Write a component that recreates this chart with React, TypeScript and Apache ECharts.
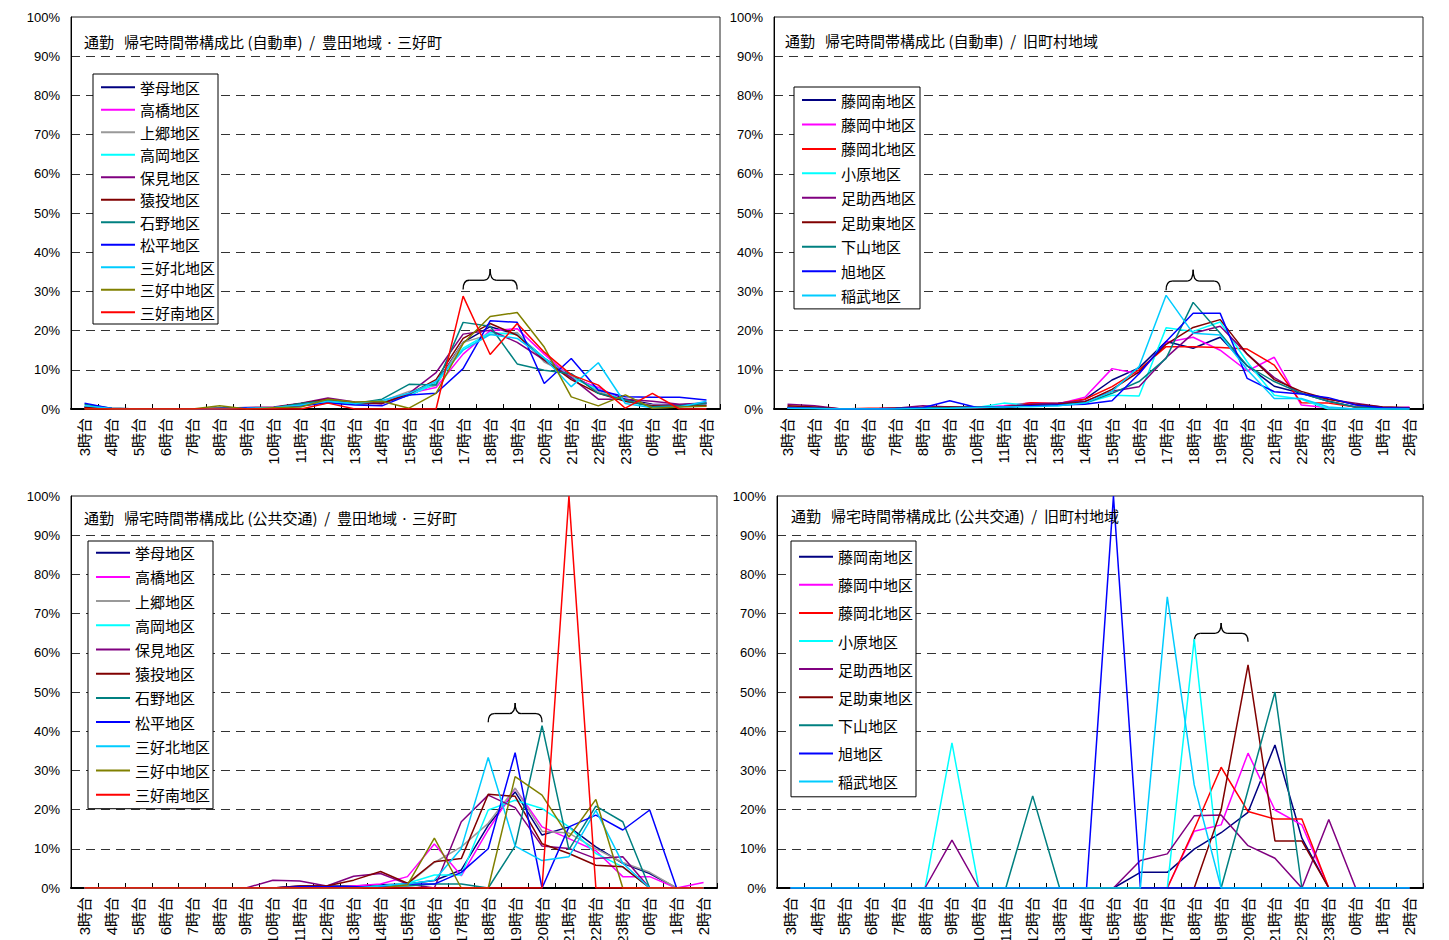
import React, { useEffect, useRef } from "react";
import * as echarts from "echarts";

// Time-of-day categories (return-home hour bands)
const hours = [
  "3時台", "4時台", "5時台", "6時台", "7時台", "8時台", "9時台", "10時台",
  "11時台", "12時台", "13時台", "14時台", "15時台", "16時台", "17時台", "18時台",
  "19時台", "20時台", "21時台", "22時台", "23時台", "0時台", "1時台", "2時台",
];

const yTicks = [0, 10, 20, 30, 40, 50, 60, 70, 80, 90, 100];

// Toyota area + Miyoshi town districts
const toyotaDistricts = [
  "挙母地区", "高橋地区", "上郷地区", "高岡地区", "保見地区", "猿投地区",
  "石野地区", "松平地区", "三好北地区", "三好中地区", "三好南地区",
];
const toyotaColors = [
  "#000080", "#FF00FF", "#999999", "#00FFFF", "#800080", "#800000",
  "#008080", "#0000FF", "#00CCFF", "#808000", "#FF0000",
];

// Former town/village districts
const villageDistricts = [
  "藤岡南地区", "藤岡中地区", "藤岡北地区", "小原地区", "足助西地区",
  "足助東地区", "下山地区", "旭地区", "稲武地区",
];
const villageColors = [
  "#000080", "#FF00FF", "#FF0000", "#00FFFF", "#800080",
  "#800000", "#008080", "#0000FF", "#00CCFF",
];

// Share (%) by hour, car commuters, Toyota/Miyoshi
const carToyota = [
  [0.5, 0.2, 0, 0, 0, 0.1, 0.2, 0.3, 0.8, 1.8, 1.2, 1.5, 3.5, 6.5, 17, 21, 19, 13, 8.5, 5, 2.5, 1.2, 1, 1.5],
  [0.3, 0.1, 0, 0, 0, 0.1, 0.2, 0.4, 1, 2, 1.5, 2, 4, 5.5, 14, 20, 20.5, 14, 8, 5.5, 2, 1, 0.8, 1.2],
  [0.4, 0.1, 0, 0, 0, 0.1, 0.2, 0.4, 1, 2.2, 1.5, 2, 4.5, 6, 17, 19, 19.5, 12, 8.5, 4.5, 2, 1, 0.8, 1],
  [0.6, 0.1, 0, 0, 0, 0.1, 0.2, 0.3, 0.9, 2, 1.3, 1.8, 3.5, 6.5, 15.5, 19.5, 19, 13, 8, 5, 2, 0.6, 0.5, 1.5],
  [0.5, 0.1, 0, 0, 0, 0.2, 0.4, 0.5, 1.5, 2.8, 1.8, 1.3, 4, 9.3, 19.1, 20.1, 17, 12.5, 8, 2.5, 2.5, 2, 1.2, 1.5],
  [0.4, 0.1, 0, 0, 0, 0.2, 0.3, 0.4, 1.4, 2.5, 1.6, 1.5, 3.8, 7.5, 18, 21.8, 18.8, 12.5, 7.5, 4, 2, 0.8, 0.7, 0.8],
  [1.2, 0.2, 0, 0, 0, 0.1, 0.2, 0.3, 1.4, 2.2, 1.4, 2.5, 6.3, 6.1, 22.1, 21.1, 11.5, 9.9, 9, 4, 2.3, 0.6, 0.8, 1.4],
  [1.5, 0.1, 0, 0, 0, 0.1, 0.3, 0.3, 0.8, 1.5, 1, 0.8, 3.6, 4, 10.3, 22.5, 22.1, 6.5, 12.9, 4.8, 3.1, 3, 3, 2.3],
  [0.8, 0.1, 0, 0, 0, 0.1, 0.2, 0.4, 1, 2, 1.4, 2.2, 4, 7, 15, 19, 18, 13, 5.7, 11.8, 1.4, 0.3, 0.5, 2],
  [0, 0, 0, 0, 0, 0.8, 0, 0.3, 0.5, 2.5, 1.8, 2, 0.2, 4, 16.7, 23.6, 24.6, 15.8, 3.1, 0.8, 3.6, 0.2, 0.5, 0.7],
  [0, 0, 0, 0, 0, 0, 0, 0, 0, 1.5, 0, 0, 0, 0, 28.8, 13.9, 21.8, 14.5, 8.7, 6.1, 0.2, 4, 0, 0],
];

// Share (%) by hour, car commuters, former towns/villages
const carVillage = [
  [0.5, 0.3, 0, 0, 0.2, 0.3, 0.5, 0.5, 0.6, 1, 1.2, 2.5, 7.4, 10.5, 17.2, 15.5, 18.3, 11, 5.8, 4, 2, 0.5, 0.3, 0.2],
  [0.3, 0.2, 0, 0, 0.2, 0.2, 0.3, 0.4, 0.8, 1.6, 1.3, 3, 10.3, 9, 17, 18.3, 15, 9.7, 13.2, 1, 0.3, 0, 0, 0.5],
  [0.4, 0.3, 0, 0.2, 0.2, 0.2, 0.4, 0.3, 0.6, 1.6, 1.4, 2.5, 5.7, 10, 15.9, 15.9, 15.7, 15.3, 11.2, 1.6, 1.5, 0.5, 0.2, 0.2],
  [0.2, 0.1, 0, 0, 0.1, 0.2, 0.4, 0.4, 1.5, 1, 0.8, 1.5, 3.5, 3.3, 20.7, 19.8, 22.2, 12, 3.5, 2.5, 0, 0, 0, 0],
  [1.2, 0.8, 0, 0, 0.2, 0.8, 0.5, 0.5, 0.6, 1.2, 1.5, 2, 4.5, 5.7, 13.1, 19.3, 21.1, 14, 8, 4, 2.5, 1.5, 0.5, 0.3],
  [0.8, 0.5, 0, 0, 0.2, 0.4, 0.5, 0.3, 0.5, 1, 1.2, 1.8, 5, 9.5, 16.5, 20.8, 22.8, 14, 7.5, 4.5, 2.5, 1.2, 0.5, 0.3],
  [0.3, 0.2, 0, 0, 0.1, 0.3, 0.3, 0.5, 0.4, 0.8, 1, 1.5, 4, 7, 12.9, 27.2, 19.3, 11, 7, 4, 2, 0.5, 0.2, 0.1],
  [0.3, 0.2, 0, 0, 0.1, 0.3, 2.1, 0.4, 0.5, 0.8, 1, 1.2, 2.1, 9, 17.2, 24.4, 24.4, 7.8, 4.4, 3.8, 2.9, 1, 0.3, 0.2],
  [0.2, 0.1, 0, 0, 0, 0.1, 0.2, 0.4, 0.5, 0.6, 0.8, 1.5, 4.5, 10.8, 29, 19.3, 18.9, 10, 2.7, 2.7, 0.5, 0, 0, 0],
];

// Share (%) by hour, public transport commuters, Toyota/Miyoshi
const transitToyota = [
  [0, 0, 0, 0, 0, 0, 0, 0, 0.5, 0.5, 0.5, 0.8, 1, 1.9, 4.6, 16, 24.5, 13.5, 15.6, 10.5, 6.3, 3.7, 0, 0],
  [0, 0, 0, 0, 0, 0, 0, 0, 0, 0, 0.5, 1, 2.9, 11.2, 3.1, 14.8, 25.4, 15.6, 12.6, 9.5, 2.9, 2.9, 0, 1.4],
  [0, 0, 0, 0, 0, 0, 0, 0, 0, 0, 0, 0.5, 1, 6.5, 10.5, 16.5, 25.5, 14.5, 14, 10, 6.5, 4, 0, 0],
  [0, 0, 0, 0, 0, 0, 0, 0, 0, 0, 0, 0.5, 1.2, 3.3, 3.3, 19.9, 22.4, 20.3, 15.6, 8.8, 5.4, 0, 0, 0],
  [0, 0, 0, 0, 0, 0, 0, 2, 1.8, 0.5, 3, 3.7, 1, 0, 16.9, 23.7, 20.5, 10.7, 10.1, 7.5, 8, 0, 0, 0],
  [0, 0, 0, 0, 0, 0, 0, 0, 0.5, 0.5, 2, 4.2, 1.2, 6.7, 7.5, 23.9, 23.4, 11.3, 8.8, 5.8, 5.4, 0, 0, 0],
  [0, 0, 0, 0, 0, 0, 0, 0, 0, 0, 0, 0.5, 0.5, 1, 1, 0, 10.7, 41.4, 9.8, 20.9, 16.9, 0, 0, 0],
  [0, 0, 0, 0, 0, 0, 0, 0, 0.3, 0.3, 0.3, 0.3, 1, 1, 4, 10, 34.5, 0, 15.6, 18.6, 14.8, 19.9, 0, 0],
  [0, 0, 0, 0, 0, 0, 0, 0, 0, 0, 0, 0.5, 1, 2, 10.1, 33.3, 10.7, 7, 8, 19.8, 6.3, 0, 0, 0],
  [0, 0, 0, 0, 0, 0, 0, 0, 0, 0, 0, 0, 0.8, 12.7, 0, 0, 28.4, 23.7, 13, 22.6, 0, 0, 0, 0],
  [0, 0, 0, 0, 0, 0, 0, 0, 0, 0, 0, 0, 0, 0, 0, 0, 0, 0, 100, 0, 0, 0, 0, 0],
];

// Share (%) by hour, public transport commuters, former towns/villages
const transitVillage = [
  [0, 0, 0, 0, 0, 0, 0, 0, 0, 0, 0, 0, 0, 4, 4, 9.9, 14.1, 19.3, 36.5, 12.7, 0, 0, 0, 0],
  [0, 0, 0, 0, 0, 0, 0, 0, 0, 0, 0, 0, 0, 0, 0, 14.5, 16.1, 34.4, 19.9, 16.1, 0, 0, 0, 0],
  [0, 0, 0, 0, 0, 0, 0, 0, 0, 0, 0, 0, 0, 0, 0, 15, 30.8, 19.5, 17.6, 17.6, 0, 0, 0, 0],
  [0, 0, 0, 0, 0, 0, 37, 0, 0, 0, 0, 0, 0, 0, 0, 63.5, 0, 0, 0, 0, 0, 0, 0, 0],
  [0, 0, 0, 0, 0, 0, 12.2, 0, 0, 0, 0, 0, 0, 7, 8.7, 18.4, 18.6, 10.8, 7.6, 0, 17.5, 0, 0, 0],
  [0, 0, 0, 0, 0, 0, 0, 0, 0, 0, 0, 0, 0, 0, 0, 0, 19.9, 56.9, 12, 12, 0, 0, 0, 0],
  [0, 0, 0, 0, 0, 0, 0, 0, 0, 23.5, 0, 0, 0, 0, 0, 0, 0, 25, 50, 0, 0, 0, 0, 0],
  [0, 0, 0, 0, 0, 0, 0, 0, 0, 0, 0, 0, 100, 0, 0, 0, 0, 0, 0, 0, 0, 0, 0, 0],
  [0, 0, 0, 0, 0, 0, 0, 0, 0, 0, 0, 0, 0, 0, 74.3, 26.3, 0, 0, 0, 0, 0, 0, 0, 0],
];

const S = "\u00A0";
const titles = [
  `通勤${S}${S}${S}帰宅時間帯構成比${S}(自動車)${S}${S}/${S}${S}豊田地域${S}·${S}三好町`,
  `通勤${S}${S}${S}帰宅時間帯構成比${S}(自動車)${S}${S}/${S}${S}旧町村地域`,
  `通勤${S}${S}${S}帰宅時間帯構成比${S}(公共交通)${S}${S}/${S}${S}豊田地域${S}·${S}三好町`,
  `通勤${S}${S}${S}帰宅時間帯構成比${S}(公共交通)${S}${S}/${S}${S}旧町村地域`,
];

// Brace annotations: spanned hour range and the value band it sits in
const braceFrom = ["17時台", "17時台", "18時台", "18時台"];
const braceTo = ["19時台", "19時台", "20時台", "20時台"];
const braceBase = [30.5, 30.3, 42.3, 62.8];
const braceTip = [35.7, 35.5, 47.2, 67.6];

const CJK = '"Noto Sans CJK JP", "Noto Sans", sans-serif';
const NUM = '"Liberation Sans", "Noto Sans CJK JP", sans-serif';

// Panel layout
const panels = [
  { names: toyotaDistricts, colors: toyotaColors, values: carToyota,
    grid: { left: 71, top: 17, width: 649, height: 392 },
    title: { left: 84, top: 32.5 },
    legend: { left: 93, top: 74, gap: 7.5, pad: [5.8, 3, 4.2, 8] } },
  { names: villageDistricts, colors: villageColors, values: carVillage,
    grid: { left: 774, top: 17, width: 649, height: 392 },
    title: { left: 785, top: 31 },
    legend: { left: 794, top: 87, gap: 9.45, pad: [5.5, 4, 5.8, 8] } },
  { names: toyotaDistricts, colors: toyotaColors, values: transitToyota,
    grid: { left: 71, top: 496, width: 646, height: 392 },
    title: { left: 84, top: 508 },
    legend: { left: 88, top: 541, gap: 9.2, pad: [4.2, 3, 6.5, 8] } },
  { names: villageDistricts, colors: villageColors, values: transitVillage,
    grid: { left: 777, top: 496, width: 646, height: 392 },
    title: { left: 791, top: 506 },
    legend: { left: 791, top: 541, gap: 13.1, pad: [8.2, 3, 7.8, 8] } },
];

export default function App() {
  const ref = useRef<HTMLDivElement>(null);

  useEffect(() => {
    if (!ref.current) return;
    const chart = echarts.init(ref.current, undefined, { renderer: "svg" });

    const grid = panels.map((p) => ({
      ...p.grid,
      containLabel: false,
      outerBoundsMode: "none",
      show: true,
      borderColor: "#222",
      borderWidth: 1,
      backgroundColor: "transparent",
    }));

    const xAxis = panels.map((_, k) => ({
      type: "category",
      gridIndex: k,
      data: hours,
      boundaryGap: true,
      axisLine: { show: true, lineStyle: { color: "#000", width: 2 } },
      axisTick: { show: true, inside: true, length: 5, lineStyle: { color: "#000", width: 1 } },
      axisLabel: {
        rotate: 90,
        interval: 0,
        margin: 9,
        fontSize: 15,
        color: "#000",
        fontFamily: NUM,
      },
      splitLine: { show: false },
    }));

    const yAxis = panels.map((_, k) => ({
      type: "value",
      gridIndex: k,
      min: yTicks[0],
      max: yTicks[yTicks.length - 1],
      interval: yTicks[1] - yTicks[0],
      axisLine: { show: true, lineStyle: { color: "#000", width: 1 } },
      axisTick: { show: false },
      axisLabel: {
        formatter: "{value}%",
        fontSize: 13,
        margin: 11,
        color: "#000",
        fontFamily: NUM,
      },
      splitLine: {
        show: true,
        showMinLine: false,
        showMaxLine: false,
        lineStyle: { color: "#333", width: 1, type: [9, 6] },
      },
    }));

    const series: any[] = [];
    panels.forEach((p, k) => {
      p.names.forEach((name, i) => {
        series.push({
          type: "line",
          name,
          xAxisIndex: k,
          yAxisIndex: k,
          data: p.values[i],
          symbol: "none",
          silent: true,
          color: p.colors[i],
          lineStyle: { color: p.colors[i], width: 1.5 },
          emphasis: { disabled: true },
        });
      });
    });

    const legend = panels.map((p) => ({
      orient: "vertical",
      left: p.legend.left,
      top: p.legend.top,
      data: p.names,
      icon: "rect",
      itemWidth: 34,
      itemHeight: 2,
      itemGap: p.legend.gap,
      padding: p.legend.pad,
      backgroundColor: "#fff",
      borderColor: "#000",
      borderWidth: 1,
      borderRadius: 0,
      selectedMode: false,
      textStyle: { fontSize: 15, lineHeight: 15, color: "#000", fontFamily: CJK },
    }));

    const title = panels.map((p, k) => ({
      text: titles[k],
      left: p.title.left,
      top: p.title.top,
      padding: 0,
      textStyle: {
        fontSize: 15,
        lineHeight: 18,
        fontWeight: "normal",
        color: "#000",
        fontFamily: CJK,
      },
    }));

    chart.setOption({
      animation: false,
      backgroundColor: "#fff",
      title,
      grid,
      xAxis,
      yAxis,
      legend,
      series,
    });

    // Curly braces placed in data coordinates of each panel
    const graphic: any[] = [];
    panels.forEach((_, k) => {
      const a = chart.convertToPixel({ gridIndex: k } as any, [braceFrom[k], braceBase[k]]) as number[];
      const b = chart.convertToPixel({ gridIndex: k } as any, [braceTo[k], braceTip[k]]) as number[];
      if (!a || !b) return;
      const x1 = a[0];
      const x2 = b[0];
      const yBase = a[1];
      const yTop = b[1];
      const yMid = yBase - (yBase - yTop) * 0.45;
      const xm = (x1 + x2) / 2;
      const r = 6;
      const style = { stroke: "#000", lineWidth: 1.3, fill: null };
      graphic.push({
        type: "group",
        silent: true,
        children: [
          { type: "bezierCurve", shape: { x1, y1: yBase, x2: x1 + r, y2: yMid, cpx1: x1, cpy1: yMid }, style },
          { type: "line", shape: { x1: x1 + r, y1: yMid, x2: xm - r, y2: yMid }, style },
          { type: "bezierCurve", shape: { x1: xm - r, y1: yMid, x2: xm, y2: yTop, cpx1: xm, cpy1: yMid }, style },
          { type: "bezierCurve", shape: { x1: xm, y1: yTop, x2: xm + r, y2: yMid, cpx1: xm, cpy1: yMid }, style },
          { type: "line", shape: { x1: xm + r, y1: yMid, x2: x2 - r, y2: yMid }, style },
          { type: "bezierCurve", shape: { x1: x2 - r, y1: yMid, x2, y2: yBase, cpx1: x2, cpy1: yMid }, style },
        ],
      });
    });
    chart.setOption({ graphic });

    return () => chart.dispose();
  }, []);

  return (
    <div
      ref={ref}
      style={{ position: "absolute", left: 0, top: 0, width: 1449, height: 940, background: "#fff" }}
    />
  );
}
